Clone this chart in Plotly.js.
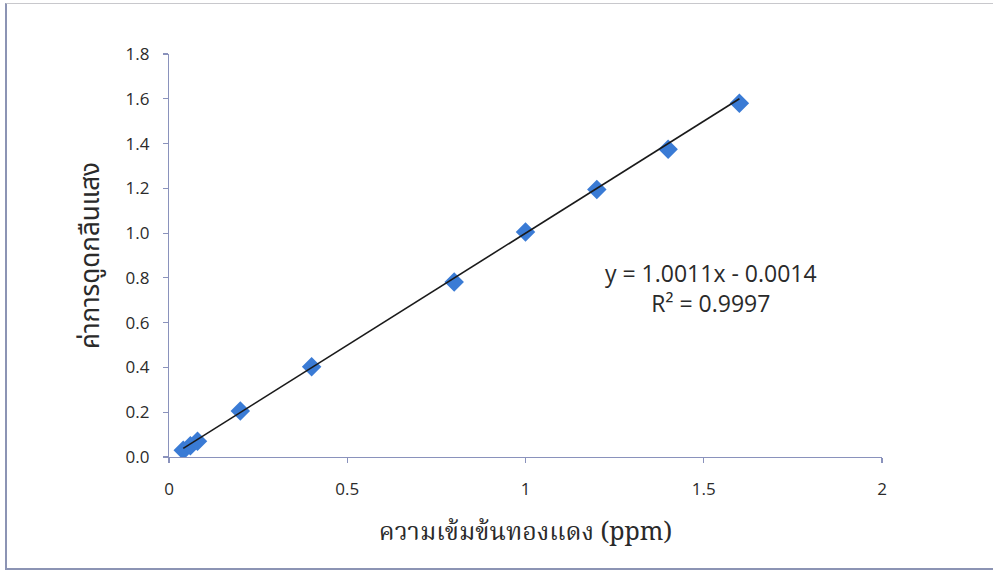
<!DOCTYPE html>
<html>
<head>
<meta charset="utf-8">
<script src="https://cdn.plot.ly/plotly-3.0.1.min.js"></script>
<style>
  html, body { margin: 0; padding: 0; background: #ffffff; }
  #frame {
    position: absolute; left: 5px; top: 3px; width: 1000px; height: 567px;
    border-left: 2px solid #8c94b4; border-bottom: 2px solid #8c94b4;
    border-top: 1px solid #c8c8cc; box-sizing: border-box;
  }
  #chart { position: absolute; left: 0; top: 0; width: 993px; height: 575px; }
</style>
</head>
<body>
<div id="frame"></div>
<div id="chart"></div>
<script>
// Copper standard concentrations (ppm) and measured absorbance
const concentration = [0.04, 0.06, 0.08, 0.2, 0.4, 0.8, 1.0, 1.2, 1.4, 1.6];
const absorbance    = [0.03, 0.05, 0.07, 0.205, 0.403, 0.782, 1.005, 1.195, 1.375, 1.58];

// Linear fit reported for the calibration curve
const slope = 1.0011;
const intercept = -0.0014;
const rSquared = 0.9997;

const xTicks = [0, 0.5, 1, 1.5, 2];
const xTickText = ['0', '0.5', '1', '1.5', '2'];
const yTicks = [0, 0.2, 0.4, 0.6, 0.8, 1.0, 1.2, 1.4, 1.6, 1.8];
const yTickText = ['0.0', '0.2', '0.4', '0.6', '0.8', '1.0', '1.2', '1.4', '1.6', '1.8'];

const xLabel = 'ความเข้มข้นทองแดง (ppm)';
const yLabel = 'ค่าการดูดกลืนแสง';

const xMin = Math.min(...concentration);
const xMax = Math.max(...concentration);
const fitX = [xMin, xMax];
const fitY = fitX.map(v => slope * v + intercept);

const tickFont = { family: '"Open Sans", Lato, sans-serif', size: 17, color: '#2b2b2b' };
const thaiSans = '"Noto Sans Thai", "Noto Sans Thai Looped", "Noto Sans", sans-serif';
const thaiSerif = '"Noto Serif Thai", "Liberation Serif", "DejaVu Serif", serif';

const traces = [
  {
    x: concentration, y: absorbance, type: 'scatter', mode: 'markers',
    marker: { symbol: 'diamond', size: 15, color: '#3a7bd5', line: { width: 0 } },
    hoverinfo: 'x+y', showlegend: false
  },
  {
    x: fitX, y: fitY, type: 'scatter', mode: 'lines',
    line: { color: '#1a1a1a', width: 1.6 },
    hoverinfo: 'skip', showlegend: false
  }
];

const axisColor = '#8a92bc';

const layout = {
  width: 993, height: 575,
  margin: { l: 169, r: 111, t: 54, b: 118 },
  paper_bgcolor: 'rgba(0,0,0,0)', plot_bgcolor: 'rgba(0,0,0,0)',
  showlegend: false,
  xaxis: {
    range: [0, 2], tickvals: xTicks, ticktext: xTickText,
    showgrid: false, zeroline: false,
    showline: true, linecolor: axisColor, linewidth: 1.2,
    ticks: 'outside', ticklen: 5, tickcolor: axisColor, tickwidth: 1.2,
    ticklabelstandoff: 11,
    tickfont: tickFont,
    title: { text: xLabel, font: { family: thaiSerif, size: 25, color: '#2a2a2a' }, standoff: 24 }
  },
  yaxis: {
    range: [0, 1.8], tickvals: yTicks, ticktext: yTickText,
    showgrid: false, zeroline: false,
    showline: true, linecolor: axisColor, linewidth: 1.2,
    ticks: 'outside', ticklen: 5, tickcolor: axisColor, tickwidth: 1.2,
    ticklabelstandoff: 10,
    tickfont: tickFont,
    title: { text: yLabel, font: { family: thaiSans, size: 26, color: '#2a2a2a' }, standoff: 18 }
  },
  annotations: [
    {
      x: 1.52, y: 0.755, xref: 'x', yref: 'y',
      text: 'y = ' + slope.toFixed(4) + 'x - ' + Math.abs(intercept).toFixed(4) +
            '<br>R² = ' + rSquared.toFixed(4),
      showarrow: false, align: 'center',
      font: { family: '"Open Sans", Lato, sans-serif', size: 23, color: '#2a2a2a' }
    }
  ]
};

Plotly.newPlot('chart', traces, layout, { displayModeBar: false, staticPlot: true });
</script>
</body>
</html>
